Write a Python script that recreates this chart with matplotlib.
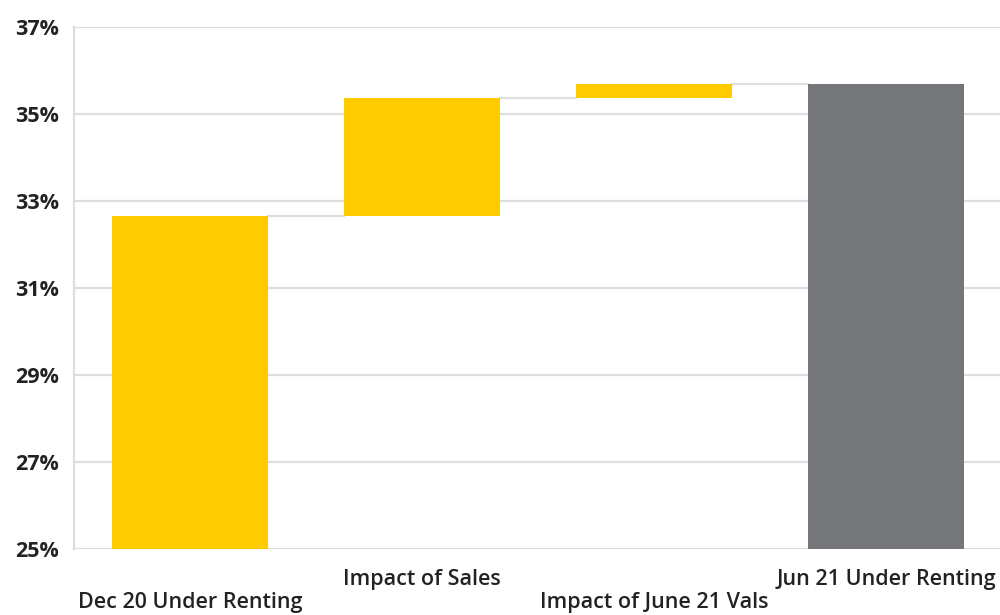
import matplotlib
matplotlib.use("Agg")
import matplotlib.pyplot as plt
import numpy as np

# waterfall: Dec 20 under renting -> Jun 21 under renting (%)
categories = ["Dec 20 Under Renting", "Impact of Sales",
              "Impact of June 21 Vals", "Jun 21 Under Renting"]
start_value = 32.65
deltas = [2.73, 0.30]
end_value = 35.68
yticks = [25, 27, 29, 31, 33, 35, 37]

YELLOW = "#FECB00"
GREY = "#747679"
GRID = "#dedede"
TEXT = "#222222"

plt.rcParams["font.family"] = ["Open Sans", "DejaVu Sans"]

# build bar bottoms / heights from the data
levels = [start_value] + list(start_value + np.cumsum(deltas))
bottoms = [25] + levels[:-1] + [25]
heights = [start_value - 25] + deltas + [end_value - 25]
colors = [YELLOW] * (len(categories) - 1) + [GREY]
tops = [b + h for b, h in zip(bottoms, heights)]

x = np.arange(len(categories))
width = 0.67

fig = plt.figure(figsize=(10, 6.15), dpi=100)
ax = fig.add_axes([0.074, 0.107, 0.928, 0.849])

ax.bar(x, heights, bottom=bottoms, width=width, color=colors, zorder=3)

# connectors between consecutive bars
for i in range(len(categories) - 1):
    ax.plot([x[i] + width / 2, x[i + 1] - width / 2], [tops[i], tops[i]],
            color=GRID, lw=1.6, zorder=2)

ax.set_xlim(-0.5, 3.5)
ax.set_ylim(25, 37)
ax.set_yticks(yticks)
ax.set_yticklabels([f"{v}%" for v in yticks])
ax.yaxis.grid(True, color=GRID, lw=1.6, zorder=0)
ax.set_axisbelow(True)

for s in ["top", "right", "bottom"]:
    ax.spines[s].set_visible(False)
ax.spines["left"].set_color(GRID)
ax.spines["left"].set_linewidth(1.6)

ax.tick_params(axis="y", length=0, pad=11, labelsize=15.5, labelcolor=TEXT)
ax.tick_params(axis="x", length=0, labelsize=15.5, labelcolor=TEXT)
for lbl in ax.get_yticklabels():
    lbl.set_fontweight("bold")

ax.set_xticks(x)
ax.set_xticklabels(categories)
for i, tick in enumerate(ax.xaxis.get_major_ticks()):
    tick.set_pad(31 if i % 2 == 0 else 14)
for lbl in ax.get_xticklabels():
    lbl.set_fontweight("semibold")

fig.savefig("out.png", dpi=100)
